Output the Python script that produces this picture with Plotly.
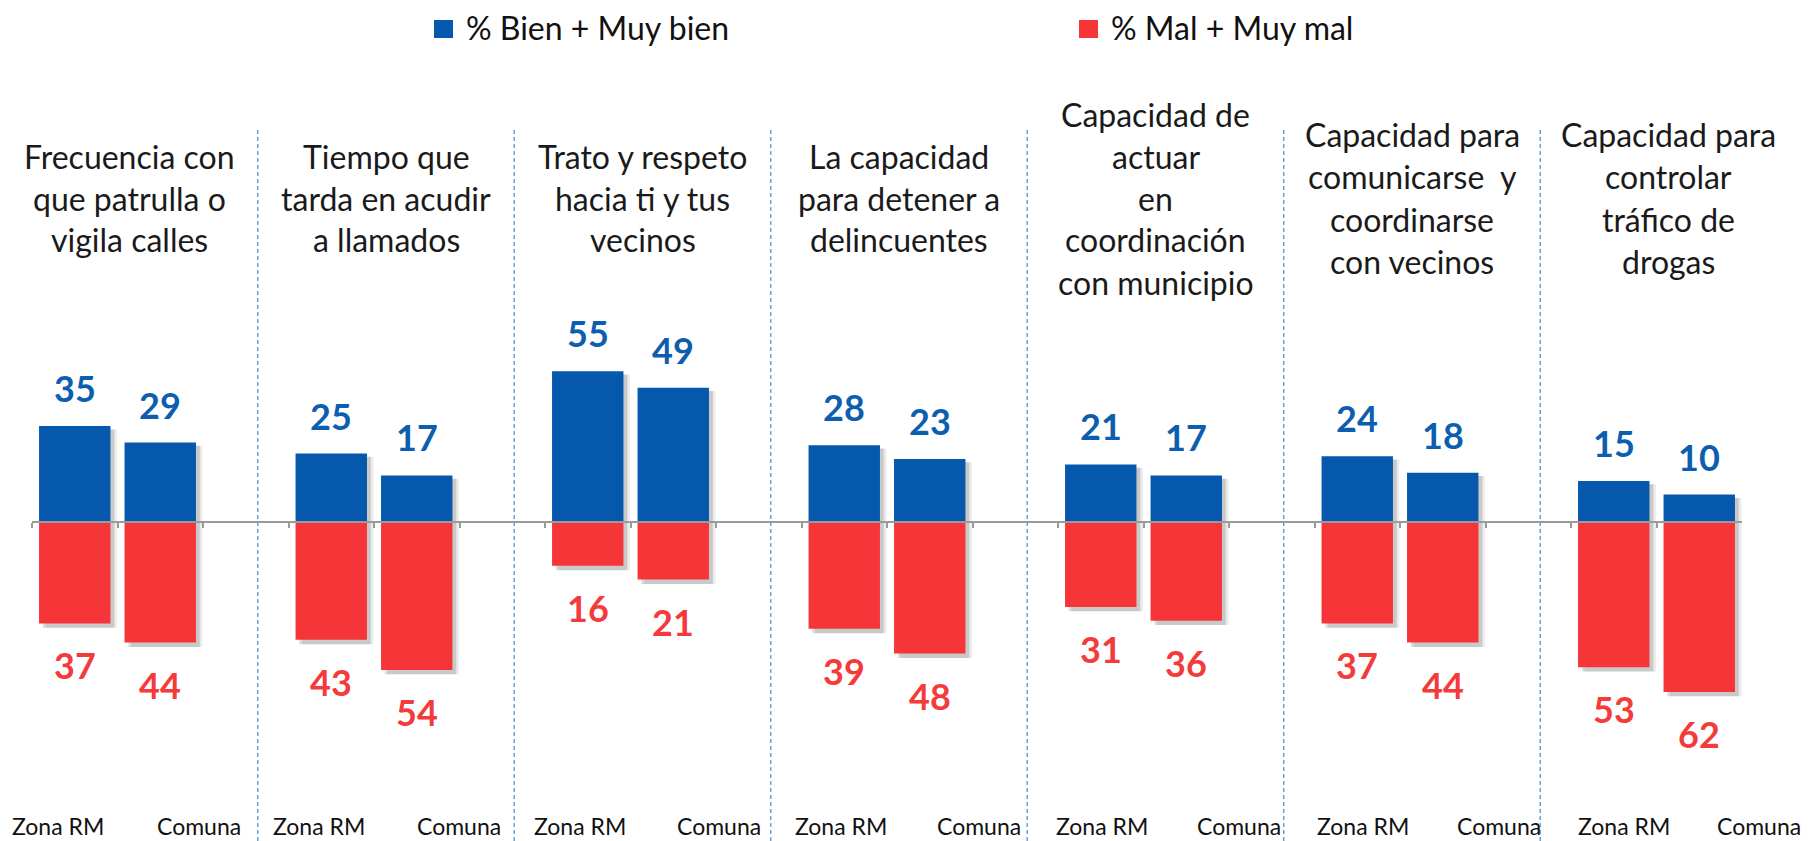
import plotly.graph_objects as go

# ---------------- data ----------------
titles = [
    "Frecuencia con<br>que patrulla o<br>vigila calles",
    "Tiempo que<br>tarda en acudir<br>a llamados",
    "Trato y respeto<br>hacia ti y tus<br>vecinos",
    "La capacidad<br>para detener a<br>delincuentes",
    "Capacidad de<br>actuar<br>en<br>coordinación<br>con municipio",
    "Capacidad para<br>comunicarse  y<br>coordinarse<br>con vecinos",
    "Capacidad para<br>controlar<br>tráfico de<br>drogas",
]
bar_labels = ["Zona RM", "Comuna"]
bien_zona = [35, 25, 55, 28, 21, 24, 15]
bien_comuna = [29, 17, 49, 23, 17, 18, 10]
mal_zona = [37, 43, 16, 39, 31, 37, 53]
mal_comuna = [44, 54, 21, 48, 36, 44, 62]
series_names = ["% Bien + Muy bien", "% Mal + Muy mal"]

# ---------------- style ----------------
BLUE = "#0558AB"
RED = "#F53538"
BLUE_TXT = "#0D5EAF"
RED_TXT = "#F43A3B"
FONT = "Lato"
W = 0.835
OFF = 8                      # page body margin
W_PX, H_PX = 1813 - OFF, 841 - OFF
ZERO_PX = 522 - OFF
PX_PER_UNIT = 2.74
X0_PX, X1_PX = 32 - OFF, 1742 - OFF
TITLE_MID_PX = 198 - OFF
TITLE_LINE_PX = 42

n = len(titles)
xs, bien, mal, lab, grp = [], [], [], [], []
for i in range(n):
    xs += [3 * i, 3 * i + 1]
    bien += [bien_zona[i], bien_comuna[i]]
    mal += [mal_zona[i], mal_comuna[i]]
    lab += bar_labels
    grp += [i, i]

fig = go.Figure()

# soft drop shadows
for dx, alpha in [(0.075, 0.08), (0.045, 0.14)]:
    fig.add_trace(go.Bar(
        x=xs, y=[-(m + b) - 0.4 for b, m in zip(bien, mal)],
        base=[b - 1.2 for b in bien],
        width=W, offset=-W / 2 + dx,
        marker=dict(color=f"rgba(0,0,0,{alpha})", line=dict(width=0)),
        showlegend=False, hoverinfo="skip"))

fig.add_trace(go.Bar(x=xs, y=bien, width=W, name=series_names[0],
                     marker=dict(color=BLUE, line=dict(width=0))))
fig.add_trace(go.Bar(x=xs, y=[-m for m in mal], width=W, name=series_names[1],
                     marker=dict(color=RED, line=dict(width=0))))

ann = []
for x, b, m in zip(xs, bien, mal):
    ann.append(dict(x=x, y=b, xref="x", yref="y", text=str(b), showarrow=False,
                    yanchor="middle", yshift=38,
                    font=dict(family=FONT, size=36, color=BLUE_TXT, weight="bold")))
    ann.append(dict(x=x, y=-m, xref="x", yref="y", text=str(m), showarrow=False,
                    yanchor="middle", yshift=-42,
                    font=dict(family=FONT, size=36, color=RED_TXT, weight="bold")))

for x, t, g in zip(xs, lab, grp):
    shift = (-16.75 + 4.5 * g) if t == bar_labels[0] else (38.75 + 3.5 * g)
    ann.append(dict(x=x, y=1 - (826 - OFF) / H_PX, xref="x", yref="paper", text=t,
                    showarrow=False, yanchor="middle", xshift=shift,
                    font=dict(family=FONT, size=23, color="#111111")))

# group titles, one annotation per line for exact line spacing
for i, t in enumerate(titles):
    lines = t.split("<br>")
    L = len(lines)
    for k, line in enumerate(lines):
        ypx = TITLE_MID_PX + (k - (L - 1) / 2) * TITLE_LINE_PX
        ann.append(dict(x=3 * i + 0.5, y=1 - ypx / H_PX, xref="x", yref="paper",
                        text=line, showarrow=False, yanchor="middle", xshift=12,
                        font=dict(family=FONT, size=32, color="#1a1a1a")))

shapes = []
for i in range(n - 1):
    xsep = 3 * i + 2.14
    shapes.append(dict(type="line", xref="x", yref="paper", x0=xsep, x1=xsep,
                       y0=0, y1=1 - (130 - OFF) / H_PX,
                       line=dict(color="#6A9FD6", width=1.5, dash="4px,3px")))

# legend (drawn manually to match the reference spacing)
legend_items = [(series_names[0], BLUE, 434), (series_names[1], RED, 1079)]
for name, col, lx in legend_items:
    x0 = (lx - OFF) / W_PX
    shapes.append(dict(type="rect", xref="paper", yref="paper",
                       x0=x0, x1=x0 + 19 / W_PX,
                       y0=1 - (38 - OFF) / H_PX, y1=1 - (20 - OFF) / H_PX,
                       fillcolor=col, line=dict(width=0)))
    ann.append(dict(x=x0 + 30 / W_PX, y=1 - (28 - OFF) / H_PX, xref="paper", yref="paper",
                    text=name, showarrow=False, xanchor="left", yanchor="middle",
                    font=dict(family=FONT, size=32, color="#111111")))

ymax = ZERO_PX / PX_PER_UNIT
ymin = -(H_PX - ZERO_PX) / PX_PER_UNIT

fig.update_layout(
    width=W_PX, height=H_PX,
    margin=dict(l=0, r=0, t=0, b=0),
    paper_bgcolor="white", plot_bgcolor="white",
    barmode="overlay",
    annotations=ann, shapes=shapes,
    font=dict(family=FONT),
    showlegend=False,
    xaxis=dict(domain=[X0_PX / W_PX, X1_PX / W_PX], range=[-0.5, 3 * n - 1.5],
               anchor="free", position=1 - ZERO_PX / H_PX,
               showgrid=False, zeroline=False, showline=True,
               linecolor="#9A9A9A", linewidth=1.5,
               tickmode="array", tickvals=[k - 0.5 for k in range(3 * n - 1)],
               ticks="outside", ticklen=5, tickcolor="#9A9A9A", tickwidth=1.5,
               showticklabels=False, fixedrange=True),
    yaxis=dict(domain=[0, 1], range=[ymin, ymax], visible=False, fixedrange=True),
)

fig.write_html("out.html")
